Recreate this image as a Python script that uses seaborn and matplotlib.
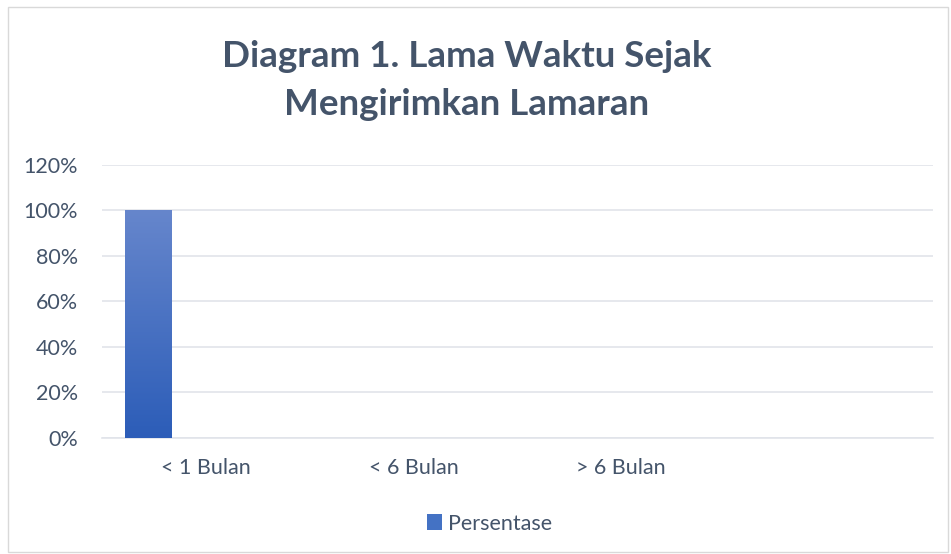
import numpy as np
import pandas as pd
import matplotlib
matplotlib.use('Agg')
import matplotlib.pyplot as plt
import matplotlib.colors as mcolors
from matplotlib.patches import Rectangle, Patch
from matplotlib.ticker import PercentFormatter
import seaborn as sns

# Data
categories = ['< 1 Bulan', '< 6 Bulan', '> 6 Bulan', ' ']
persentase = [1.00, 0.0, 0.0, 0.0]
series_name = 'Persentase'
title = 'Diagram 1. Lama Waktu Sejak\nMengirimkan Lamaran'
y_ticks = [0, 0.2, 0.4, 0.6, 0.8, 1.0, 1.2]

text_color = '#44546A'
grid_color = '#E1E4EA'
bar_top = '#6686CC'
bar_bottom = '#2C5DB8'

sns.set_theme(style='white')
plt.rcParams['font.family'] = ['Lato', 'DejaVu Sans']

fig = plt.figure(figsize=(9.51, 5.54), dpi=100)
ax = fig.add_axes([0.107, 0.210, 0.874, 0.493])

df = pd.DataFrame({'Kategori': categories, series_name: persentase})
sns.barplot(data=df, x='Kategori', y=series_name, width=0.226, color=bar_bottom, ax=ax)

# shift bar to the left within its category (excel clustered layout) + gradient fill
cmap = mcolors.LinearSegmentedColormap.from_list('bar', [bar_bottom, bar_top])
for p in ax.patches:
    p.set_x(p.get_x() - 0.277)
    h = p.get_height()
    if h <= 0:
        p.set_visible(False)
        continue
    x0 = p.get_x()
    grad = np.linspace(0, 1, 256).reshape(-1, 1)
    im = ax.imshow(grad, cmap=cmap, origin='lower', aspect='auto',
                   extent=[x0, x0 + p.get_width(), 0, h], zorder=3)
    im.set_clip_path(p)
    p.set_facecolor('none')
    p.set_edgecolor('none')

ax.set_xlim(-0.5, len(categories) - 0.5)
ax.set_ylim(0, 1.2)
ax.set_yticks(y_ticks)
ax.yaxis.set_major_formatter(PercentFormatter(1.0, decimals=0))
ax.grid(axis='y', color=grid_color, linewidth=1.2, zorder=0)
ax.set_axisbelow(True)
for s in ['top', 'right', 'left']:
    ax.spines[s].set_visible(False)
ax.spines['bottom'].set_color(grid_color)
ax.spines['bottom'].set_linewidth(1.2)
ax.tick_params(axis='y', length=0, pad=17, labelsize=15.5, labelcolor=text_color)
ax.tick_params(axis='x', length=0, pad=15, labelsize=15.5, labelcolor=text_color)
ax.set_xlabel('')
ax.set_ylabel('')

fig.text(0.491, 0.855, title, ha='center', va='center', fontsize=26.5, fontweight='bold',
         color=text_color, linespacing=1.55)

handle = Patch(facecolor='#4472C4', edgecolor='none')
fig.legend([handle], [series_name], loc='center', bbox_to_anchor=(0.515, 0.055),
           frameon=False, fontsize=15.5, labelcolor=text_color, handlelength=0.7,
           handleheight=0.7, handletextpad=0.3)

# chart area border
fig.patches.append(Rectangle((0.008, 0.004), 0.989, 0.983, transform=fig.transFigure,
                             fill=False, edgecolor='#D9D9D9', linewidth=1))

fig.savefig('out.png', dpi=100)
